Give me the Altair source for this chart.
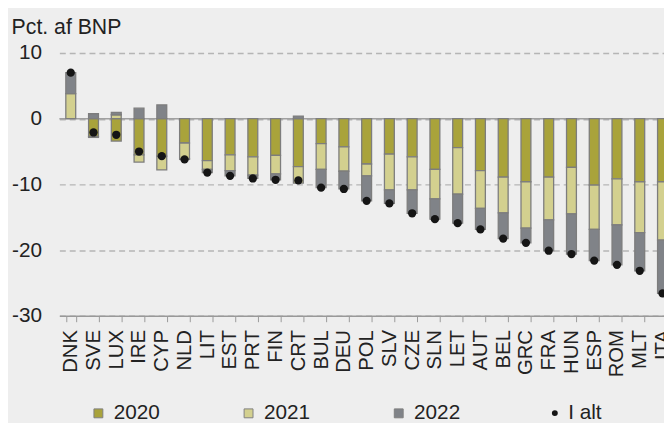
import altair as alt
import pandas as pd

countries = ["DNK", "SVE", "LUX", "IRE", "CYP", "NLD", "LIT", "EST", "PRT", "FIN",
             "CRT", "BUL", "DEU", "POL", "SLV", "CZE", "SLN", "LET", "AUT", "BEL",
             "GRC", "FRA", "HUN", "ESP", "ROM", "MLT", "ITA"]
years = ["2020", "2021", "2022"]
v2020 = [0.0, -2.7, -3.4, -5.5, -5.7, -3.7, -6.4, -5.5, -5.8, -5.6,
         -7.3, -3.8, -4.3, -6.9, -5.4, -5.8, -7.7, -4.4, -7.9, -8.9,
         -9.6, -8.9, -7.4, -10.1, -9.15, -9.6, -9.6]
v2021 = [3.8, -0.15, 0.6, -1.1, -2.1, -2.4, -1.3, -2.4, -2.8, -2.8,
         -2.5, -3.9, -3.7, -1.8, -5.45, -5.05, -4.5, -7.1, -5.75, -5.45,
         -7.05, -6.5, -7.1, -6.75, -7.0, -7.75, -8.9]
v2022 = [3.2, 0.75, 0.35, 1.6, 2.1, -0.1, -0.5, -0.8, -0.5, -0.9,
         0.4, -2.8, -2.7, -3.8, -2.05, -3.55, -3.1, -4.4, -3.2, -3.9,
         -2.25, -4.7, -6.1, -4.75, -6.1, -5.8, -8.1]
total = [7.0, -2.1, -2.45, -5.0, -5.7, -6.2, -8.2, -8.7, -9.1, -9.3,
         -9.4, -10.5, -10.7, -12.5, -12.9, -14.4, -15.3, -15.9, -16.85, -18.25,
         -18.9, -20.1, -20.6, -21.6, -22.25, -23.15, -26.6]
colors = ["#a9a33b", "#d3d08f", "#808388"]

rows = []
for i, c in enumerate(countries):
    for yr, arr in zip(years, (v2020, v2021, v2022)):
        if arr[i] != 0:
            rows.append({"land": c, "aar": yr, "v": arr[i], "ord": int(yr)})
bars_df = pd.DataFrame(rows)
tot_df = pd.DataFrame({"land": countries, "v": total, "serie": ["I alt"] * len(countries)})
zero_df = pd.DataFrame({"z": [0]})

FONT = "Liberation Sans"
TXT = "#222222"

xenc = alt.X(
    "land:N", sort=countries,
    scale=alt.Scale(range=[0, 622], paddingInner=0.566, paddingOuter=0.283),
    axis=alt.Axis(title=None, labelAngle=270, labelAlign="right", labelBaseline="middle",
                  labelPadding=8, labelFontSize=20.5, tickBand="extent", tickSize=6,
                  tickColor="#999999", domainColor="#999999", tickWidth=1, domainWidth=1.5,
                  grid=False),
)
yscale = alt.Scale(domain=[-30, 10], nice=False)
yaxis = alt.Axis(title=None, values=[10, 0, -10, -20, -30], ticks=False, tickSize=0,
                 domain=False, labelPadding=18, labelFontSize=21, grid=True,
                 labelExpr="'' + datum.value",
                 gridDash=[6, 4], gridColor="#b5b5b5", gridWidth=1.5)

rule = alt.Chart(zero_df).mark_rule(color="#a0a0a0", strokeWidth=1.5).encode(
    y=alt.Y("z:Q", scale=yscale, axis=yaxis)
)

bars = alt.Chart(bars_df).mark_bar(stroke="#7d7d7d", strokeWidth=1.3).encode(
    x=xenc,
    y=alt.Y("v:Q", stack="zero", scale=yscale, axis=yaxis),
    color=alt.Color("aar:N", scale=alt.Scale(domain=years, range=colors),
                    legend=alt.Legend(title=None, orient="none", legendX=29, legendY=354,
                                      direction="horizontal", columns=3, columnPadding=79,
                                      symbolType="square", symbolSize=81,
                                      symbolStrokeColor="#808080", symbolStrokeWidth=1,
                                      labelOffset=5, labelFontSize=21)),
    order=alt.Order("ord:Q", sort="ascending"),
)

points = alt.Chart(tot_df).mark_point(filled=True, size=70, color="#151515", opacity=1).encode(
    x=xenc,
    y=alt.Y("v:Q", scale=yscale, axis=yaxis),
    shape=alt.Shape("serie:N", scale=alt.Scale(range=["circle"]),
                    legend=alt.Legend(title=None, orient="none", legendX=491, legendY=354,
                                      symbolSize=36, symbolFillColor="#151515",
                                      symbolStrokeColor="#151515", labelOffset=3,
                                      labelFontSize=21)),
)

chart = alt.layer(rule, bars, points).properties(
    width=612, height=266,
    autosize=alt.AutoSizeParams(type="none"),
    padding={"left": 52, "top": 43, "right": 0, "bottom": 106},
    background="#eeeeee",
    title=alt.TitleParams("Pct. af BNP", anchor="start", offset=4,
                          fontSize=21.5, fontWeight="normal",
                          font=FONT, color=TXT),
).configure_view(stroke=None).configure_axis(
    labelFont=FONT, labelColor=TXT
).configure_legend(labelFont=FONT, labelColor=TXT)

chart.save("out.html", embed_options={"renderer": "svg", "actions": False})
